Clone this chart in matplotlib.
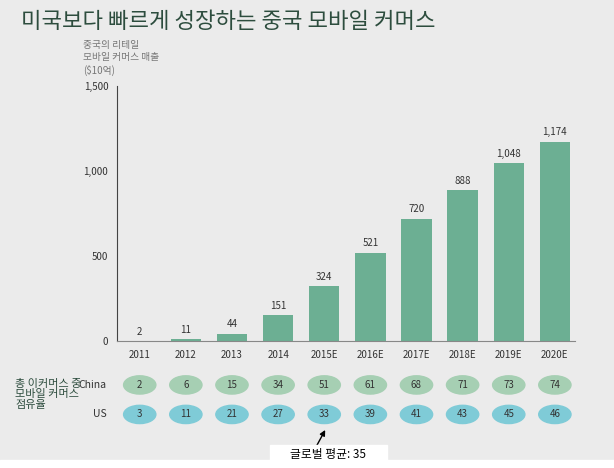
import matplotlib
matplotlib.use("Agg")
import matplotlib.pyplot as plt
from matplotlib.patches import Ellipse

plt.rcParams['font.family'] = ['Noto Sans CJK KR', 'DejaVu Sans']

years = ['2011', '2012', '2013', '2014', '2015E', '2016E', '2017E', '2018E', '2019E', '2020E']
sales = [2, 11, 44, 151, 324, 521, 720, 888, 1048, 1174]
china_share = [2, 6, 15, 34, 51, 61, 68, 71, 73, 74]
us_share = [3, 11, 21, 27, 33, 39, 41, 43, 45, 46]

bg = '#ebebeb'
fig = plt.figure(figsize=(6.14, 4.68), dpi=100, facecolor=bg)
ax = fig.add_axes([0.19, 0.271, 0.746, 0.545], facecolor=bg)
x = list(range(len(years)))
ax.bar(x, sales, width=0.66, color='#6caf93')
for xi, v in zip(x, sales):
    ax.text(xi, v + 25, f'{v:,}', ha='center', va='bottom', fontsize=7, color='#333333')
ax.set_xlim(-0.5, 9.43)
ax.set_ylim(0, 1500)
ax.set_xticks(x)
ax.set_xticklabels(years, fontsize=7, color='#333333')
ax.set_yticks([0, 500, 1000, 1500])
ax.set_yticklabels(['0', '500', '1,000', '1,500'], fontsize=7, color='#333333')
for s in ['top', 'right']:
    ax.spines[s].set_visible(False)
ax.spines['left'].set_color('#444444')
ax.spines['bottom'].set_color('#888888')
ax.tick_params(length=0, pad=6)

fig.text(0.035, 0.955, '미국보다 빠르게 성장하는 중국 모바일 커머스', fontsize=16, color='#2d4d3e', va='center')
fig.text(0.135, 0.915, '중국의 리테일\n모바일 커머스 매출\n($10억)', fontsize=7, color='#777777', va='top', linespacing=1.3)

# bubble table
tab = fig.add_axes([0.19, 0.08, 0.746, 0.13], facecolor='none')
tab.set_xlim(-0.5, 9.43)
tab.set_ylim(0, 2)
tab.axis('off')
for xi, c, u in zip(x, china_share, us_share):
    tab.add_patch(Ellipse((xi, 1.5), 0.7, 0.6, color='#a6cfb3'))
    tab.text(xi, 1.5, str(c), ha='center', va='center', fontsize=7, color='#333333')
    tab.add_patch(Ellipse((xi, 0.53), 0.7, 0.6, color='#7fcbd7'))
    tab.text(xi, 0.53, str(u), ha='center', va='center', fontsize=7, color='#333333')
tab.text(-0.72, 1.5, 'China', ha='right', va='center', fontsize=7.5, color='#333333')
tab.text(-0.72, 0.53, 'US', ha='right', va='center', fontsize=7.5, color='#333333')
fig.text(0.025, 0.19, '총 이커머스 중\n모바일 커머스\n점유율', fontsize=8, color='#2d4d3e', va='top', linespacing=1.05)

tab.annotate('', xy=(4.05, 0.1), xytext=(3.8, -0.6),
             arrowprops=dict(arrowstyle='-|>', color='black', lw=1, mutation_scale=8))
fig.patches.append(plt.Rectangle((0, 0), 1, 0.018, transform=fig.transFigure, color='white'))
fig.patches.append(plt.Rectangle((0.44, 0), 0.19, 0.05, transform=fig.transFigure, color='white'))
fig.text(0.535, 0.028, '글로벌 평균: 35', ha='center', va='center', fontsize=8.5, color='black')

fig.savefig('out.png', dpi=100, facecolor=bg)
